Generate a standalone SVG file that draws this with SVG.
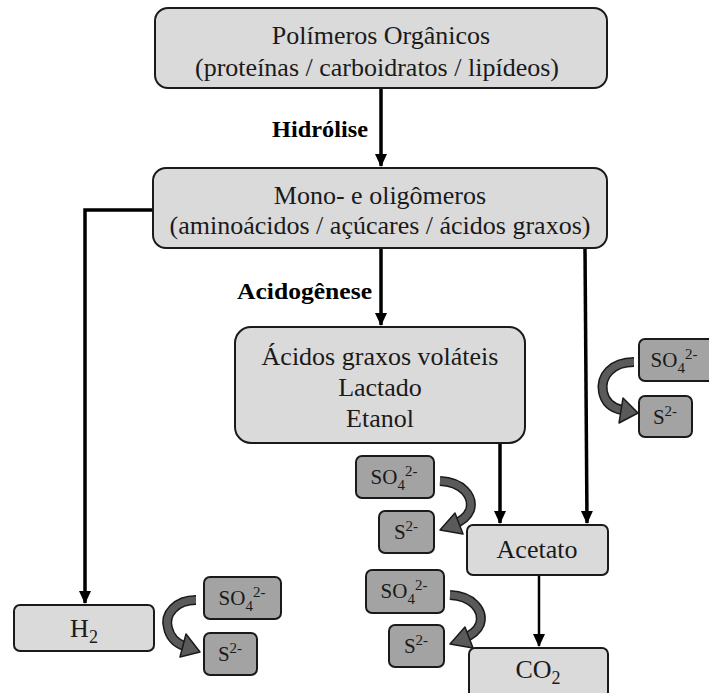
<svg xmlns="http://www.w3.org/2000/svg" width="709" height="693" viewBox="0 0 709 693">
<style>
.lt{fill:#dadada;stroke:#1a1a1a;stroke-width:2}
.dk{fill:#a3a3a3;stroke:#1a1a1a;stroke-width:2}
.t{font-family:"Liberation Serif","Times New Roman",serif;font-size:26px;fill:#1a1a1a;text-anchor:middle}
.s{font-family:"Liberation Serif","Times New Roman",serif;font-size:21px;fill:#1a1a1a;text-anchor:middle}
.b{font-family:"Liberation Serif","Times New Roman",serif;font-size:23px;font-weight:bold;fill:#000}
.ln{fill:none;stroke:#000;stroke-width:3.5}
.ln2{fill:none;stroke:#000;stroke-width:2.5}
.co{fill:none;stroke:#1a1a1a;stroke-width:10}
.ci{fill:none;stroke:#5a5a5a;stroke-width:7}
.ah{fill:#5a5a5a;stroke:#1a1a1a;stroke-width:1.5;stroke-linejoin:round}
</style>
<defs>
<marker id="arr" markerUnits="userSpaceOnUse" markerWidth="14" markerHeight="14" viewBox="0 0 14 14" refX="12" refY="7" orient="auto">
<path d="M0,1 L13,7 L0,13 Z" fill="#000"/>
</marker>
</defs>
<rect width="709" height="693" fill="#fff"/>

<g id="connectors">
<path class="ln" d="M381,88 V166" marker-end="url(#arr)"/>
<path class="ln" d="M381,248 V325" marker-end="url(#arr)"/>
<path class="ln" d="M153,210 H85 V603" marker-end="url(#arr)"/>
<path class="ln" d="M585,248 L587,523" marker-end="url(#arr)"/>
<path class="ln" d="M500,443 V523" marker-end="url(#arr)"/>
<path class="ln2" d="M539,575 V646" marker-end="url(#arr)"/>
<text class="b" x="272" y="137" textLength="96" lengthAdjust="spacingAndGlyphs">Hidrólise</text>
<text class="b" x="237" y="299" textLength="135" lengthAdjust="spacingAndGlyphs">Acidogênese</text>
</g>

<g id="n-polimeros">
<rect class="lt" x="155" y="8" width="452" height="80" rx="13"/>
<text class="t" x="381" y="44">Polímeros Orgânicos</text>
<text class="t" x="377" y="76">(proteínas / carboidratos / lipídeos)</text>
</g>
<g id="n-mono">
<rect class="lt" x="153" y="168" width="454" height="80" rx="13"/>
<text class="t" x="380" y="204">Mono- e oligômeros</text>
<text class="t" x="380" y="234">(aminoácidos / açúcares / ácidos graxos)</text>
</g>
<g id="n-acidos">
<rect class="lt" x="235" y="327" width="290" height="116" rx="16"/>
<text class="t" x="380" y="365">Ácidos graxos voláteis</text>
<text class="t" x="380" y="396">Lactado</text>
<text class="t" x="380" y="427">Etanol</text>
</g>
<g id="n-acetato">
<rect class="lt" x="467" y="525" width="141" height="50" rx="6"/>
<text class="t" x="537" y="558">Acetato</text>
</g>
<g id="n-co2">
<rect class="lt" x="469" y="648" width="139" height="50" rx="6"/>
<text class="t" x="538" y="678">CO<tspan font-size="18" dy="6">2</tspan></text>
</g>
<g id="n-h2">
<rect class="lt" x="14" y="605" width="140" height="46" rx="6"/>
<text class="t" x="84" y="637">H<tspan font-size="18" dy="6">2</tspan></text>
</g>

<g id="so4-right">
<rect class="dk" x="639" y="339" width="75" height="42" rx="6"/>
<text class="s" x="674" y="367">SO<tspan font-size="15" dy="6">4</tspan><tspan font-size="15" dy="-14">2-</tspan></text>
</g>
<g id="s2-right">
<rect class="dk" x="639" y="396" width="53" height="41" rx="6"/>
<text class="s" x="665" y="424">S<tspan font-size="15" dy="-8">2-</tspan></text>
</g>
<g id="so4-mid">
<rect class="dk" x="356" y="456" width="78" height="42" rx="6"/>
<text class="s" x="394" y="484">SO<tspan font-size="15" dy="6">4</tspan><tspan font-size="15" dy="-14">2-</tspan></text>
</g>
<g id="s2-mid">
<rect class="dk" x="379" y="511" width="55" height="42" rx="6"/>
<text class="s" x="406" y="539">S<tspan font-size="15" dy="-8">2-</tspan></text>
</g>
<g id="so4-low">
<rect class="dk" x="366" y="570" width="78" height="43" rx="6"/>
<text class="s" x="404" y="598">SO<tspan font-size="15" dy="6">4</tspan><tspan font-size="15" dy="-14">2-</tspan></text>
</g>
<g id="s2-low">
<rect class="dk" x="389" y="625" width="55" height="42" rx="6"/>
<text class="s" x="416" y="653">S<tspan font-size="15" dy="-8">2-</tspan></text>
</g>
<g id="so4-left">
<rect class="dk" x="204" y="577" width="77" height="42" rx="6"/>
<text class="s" x="242" y="605">SO<tspan font-size="15" dy="6">4</tspan><tspan font-size="15" dy="-14">2-</tspan></text>
</g>
<g id="s2-left">
<rect class="dk" x="204" y="633" width="53" height="42" rx="6"/>
<text class="s" x="230" y="661">S<tspan font-size="15" dy="-8">2-</tspan></text>
</g>

<g id="curved-arrows">
<path class="co" d="M634,362 C612,362 600,376 603,392 C605,402 612,408 622,410"/>
<path class="ci" d="M634,362 C612,362 600,376 603,392 C605,402 612,408 622,410"/>
<polygon class="ah" points="623,398 638,413 619,423"/>

<path class="co" d="M440,481 C462,482 474,496 470,510 C467,518 460,522 452,525"/>
<path class="ci" d="M440,481 C462,482 474,496 470,510 C467,518 460,522 452,525"/>
<polygon class="ah" points="455,513 440,530 463,534"/>

<path class="co" d="M450,595 C472,596 484,610 480,624 C477,632 470,636 462,639"/>
<path class="ci" d="M450,595 C472,596 484,610 480,624 C477,632 470,636 462,639"/>
<polygon class="ah" points="465,627 450,644 473,648"/>

<path class="co" d="M196,600 C176,600 164,614 168,628 C170,637 176,643 184,646"/>
<path class="ci" d="M196,600 C176,600 164,614 168,628 C170,637 176,643 184,646"/>
<polygon class="ah" points="186,634 200,652 180,657"/>
</g>
</svg>
